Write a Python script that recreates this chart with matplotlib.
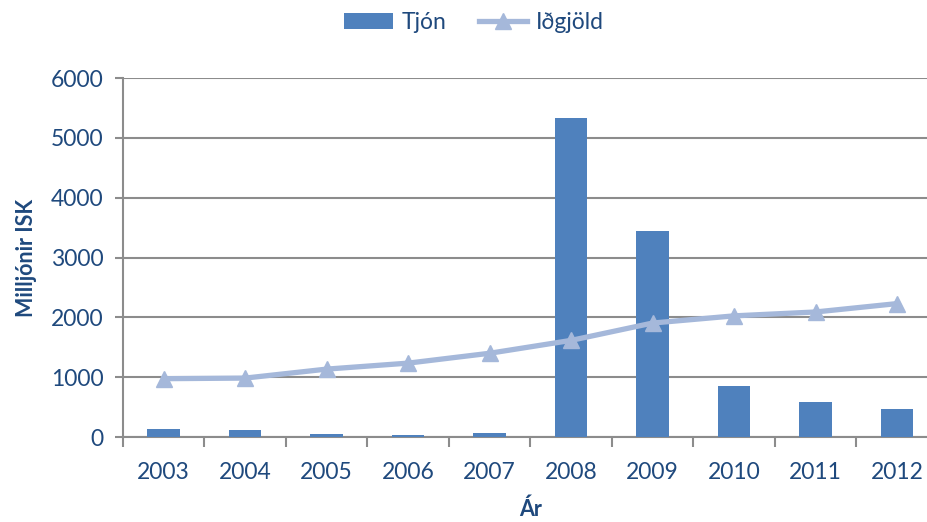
import matplotlib.pyplot as plt
import numpy as np

plt.rcParams['font.family'] = ['Lato', 'DejaVu Sans']

years = ['2003', '2004', '2005', '2006', '2007', '2008', '2009', '2010', '2011', '2012']
tjon = [130, 115, 50, 30, 60, 5330, 3440, 850, 585, 460]
idgjold = [975, 985, 1135, 1235, 1400, 1615, 1905, 2025, 2090, 2230]

TEXT = '#1F497D'
BAR = '#4F81BD'
LINE = '#A5B8DA'
GRID = '#8C8C8C'

fig = plt.figure(figsize=(9.28, 5.22), dpi=100)
ax = fig.add_axes([0.1325, 0.1628, 0.878, 0.6877])

x = np.arange(len(years))
bars = ax.bar(x, tjon, width=0.4, color=BAR, label='Tjón', zorder=3)
line, = ax.plot(x, idgjold, color=LINE, lw=3.8, marker='^', markersize=11,
                label='Iðgjöld', zorder=4)

ax.set_xlim(-0.5, len(years) - 0.5)
ax.set_ylim(0, 6000)
ax.set_yticks(range(0, 6001, 1000))
ax.set_xticks(x)
ax.set_xticklabels(years)
ax.set_xticks(np.arange(-0.5, len(years), 1), minor=True)
ax.tick_params(axis='x', which='major', length=0, pad=18, labelsize=16.5, labelcolor=TEXT)
ax.tick_params(axis='x', which='minor', length=7, width=1.5, color=GRID, direction='out')
ax.tick_params(axis='y', length=6, width=1.5, color=GRID, pad=8, labelsize=16.5, labelcolor=TEXT)

ax.grid(axis='y', color=GRID, lw=1.5, zorder=0)
for s in ['top', 'right']:
    ax.spines[s].set_visible(False)
for s in ['left', 'bottom']:
    ax.spines[s].set_color(GRID)
    ax.spines[s].set_linewidth(1.5)

ax.set_ylabel('Milljónir ISK', fontsize=15.5, fontweight='bold', color=TEXT, labelpad=10)
ax.set_xlabel('Ár', fontsize=15.5, fontweight='bold', color=TEXT, labelpad=11)

leg = fig.legend([bars, line], ['Tjón', 'Iðgjöld'], loc='center',
                 bbox_to_anchor=(0.511, 0.957), ncol=2, frameon=False,
                 fontsize=16.5, handlelength=2.1, handletextpad=0.4, columnspacing=1.4)
for t in leg.get_texts():
    t.set_color(TEXT)

fig.savefig('out.png', dpi=100)
